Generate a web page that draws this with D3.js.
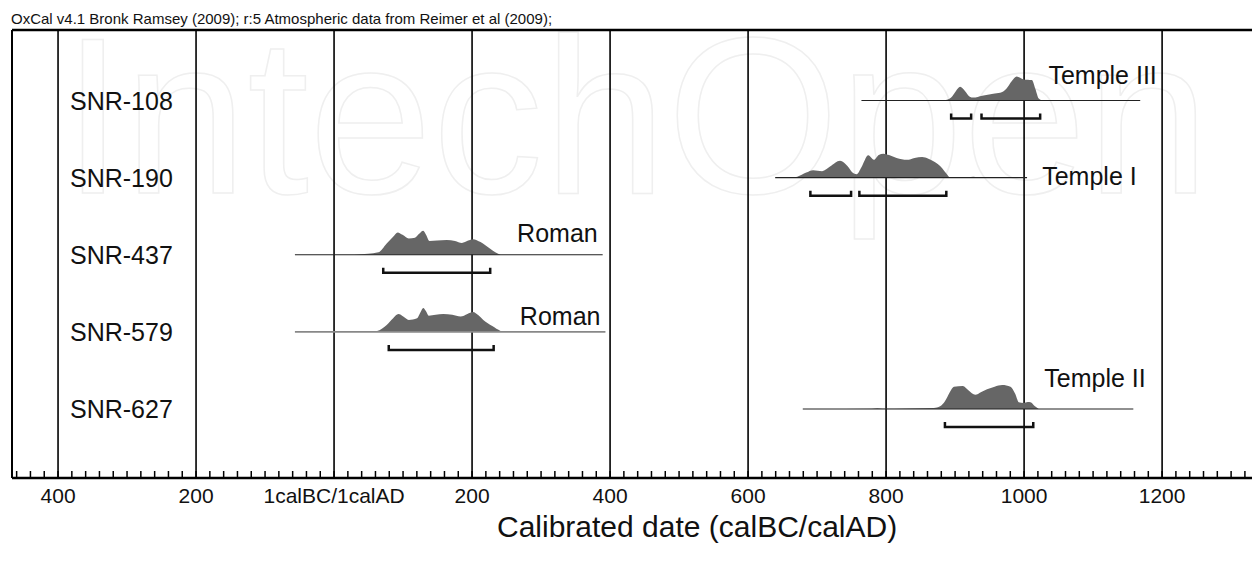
<!DOCTYPE html>
<html>
<head>
<meta charset="utf-8">
<script src="https://cdn.jsdelivr.net/npm/d3@7"></script>
<style>
  body { margin: 0; background: #fff; }
  svg { display: block; font-family: "Liberation Sans", Arial, sans-serif; }
</style>
</head>
<body>
<svg id="chart"></svg>
<script>
// samples, top to bottom
const samples = ["SNR-108", "SNR-190", "SNR-437", "SNR-579", "SNR-627"];
const periods = ["Temple III", "Temple I", "Roman", "Roman", "Temple II"];

// probability curves: [calendar year, relative probability]
const prob108 = [[885,0],[895,12],[902,40],[908,57],[915,40],[922,16],[927,12],[940,20],[956,28],[966,32],[975,49],[983,81],[990,100],[1000,88],[1012,85],[1017,49],[1022,8],[1027,0]];
const prob190 = [[665,0],[672,4],[685,21],[695,31],[708,27],[720,47],[734,70],[745,47],[752,21],[758,14],[765,43],[775,93],[783,74],[790,94],[797,100],[805,94],[816,82],[831,74],[842,82],[853,86],[862,79],[870,67],[882,39],[888,17],[894,0],[920,2],[927,4],[934,0]];
const prob437 = [[30,0],[50,4],[65,10],[77,47],[86,74],[93,93],[100,83],[109,68],[118,71],[124,87],[130,100],[134,83],[139,57],[150,59],[164,61],[176,57],[186,49],[195,59],[202,65],[213,53],[227,25],[235,9],[242,0]];
const prob579 = [[50,0],[63,4],[77,29],[86,56],[94,74],[101,64],[109,50],[121,57],[126,82],[130,100],[134,86],[138,67],[148,71],[159,74],[172,71],[184,64],[194,75],[202,83],[210,69],[217,50],[230,24],[242,4],[246,0]];
const prob627 = [[700,0],[780,1],[788,3],[796,1],[830,2],[870,4],[879,11],[886,32],[893,70],[899,93],[912,96],[920,78],[930,59],[938,70],[947,82],[958,93],[969,100],[981,93],[988,62],[993,28],[1000,25],[1006,29],[1010,28],[1016,12],[1022,0]];
const curves = [prob108, prob190, prob437, prob579, prob627];

// extent of the plotted range line for each sample
const spans = [[765,1169],[640,1005],[-56,390],[-56,394],[680,1159]];

// 95.4% ranges (brackets)
const ranges = [
  [[895,924],[939,1024]],
  [[691,750],[762,888]],
  [[72,227]],
  [[80,232]],
  [[886,1014]]
];

// period label anchor year and baseline offset from row
const labelYears = [1036, 1027, 266, 270, 1030];
const labelShift = [-17, 7, -13, -7, -22];

const majorTicks = [-400, -200, 0, 200, 400, 600, 800, 1000, 1200];
const tickLabels = ["400", "200", "1calBC/1calAD", "200", "400", "600", "800", "1000", "1200"];
const minorTicks = d3.range(-460, 1340, 20);

const width = 1252;
const height = 564;
const plotTop = 30;
const plotLeft = 12;
const axisY = 478;
const lineColors = ["#222", "#222", "#222", "#888", "#222"];

const svg = d3.select("#chart").attr("width", width).attr("height", height);

const x = d3.scaleLinear().domain([-466, 1331]).range([plotLeft, width]);
const row = d3.scalePoint().domain(samples).range([100.5, 409]);
const h = d3.scaleLinear().domain([0, 100]).range([0, 24]);

// watermark
svg.append("text")
  .attr("x", 62)
  .attr("y", 193)
  .attr("font-size", 222)
  .attr("font-family", "Liberation Sans, Arial, sans-serif")
  .attr("fill", "none")
  .attr("stroke", "#efefef")
  .attr("stroke-width", 1.5)
  .text("IntechOpen");

// header
svg.append("text")
  .attr("x", 11)
  .attr("y", 24)
  .attr("font-size", 15)
  .attr("fill", "#111")
  .text("OxCal v4.1 Bronk Ramsey (2009); r:5 Atmospheric data from Reimer et al (2009);");

// minor ticks
const minorAxis = d3.axisBottom(x).tickValues(minorTicks).tickSize(-7).tickFormat("");
svg.append("g")
  .attr("transform", `translate(0,${axisY})`)
  .call(minorAxis)
  .call(g => g.select(".domain").remove())
  .call(g => g.selectAll("line").attr("stroke", "#000").attr("stroke-width", 1.5));

// major ticks = grid lines
const majorAxis = d3.axisBottom(x)
  .tickValues(majorTicks)
  .tickSize(-(axisY - plotTop))
  .tickPadding(10)
  .tickFormat((d, i) => tickLabels[i]);
svg.append("g")
  .attr("transform", `translate(0,${axisY})`)
  .call(majorAxis)
  .call(g => g.select(".domain").remove())
  .call(g => g.selectAll("line").attr("stroke", "#000").attr("stroke-width", 1.6))
  .call(g => g.selectAll("text")
    .attr("font-size", 21)
    .attr("font-family", "Liberation Sans, Arial, sans-serif")
    .attr("fill", "#111"));

// frame
svg.append("line").attr("x1", plotLeft).attr("x2", width).attr("y1", plotTop).attr("y2", plotTop)
  .attr("stroke", "#000").attr("stroke-width", 2.5);
svg.append("line").attr("x1", plotLeft).attr("x2", plotLeft).attr("y1", plotTop).attr("y2", axisY)
  .attr("stroke", "#000").attr("stroke-width", 2);
svg.append("line").attr("x1", plotLeft).attr("x2", width).attr("y1", axisY).attr("y2", axisY)
  .attr("stroke", "#000").attr("stroke-width", 2.5);

// distributions
const area = d3.area()
  .x(d => x(d[0]))
  .y0(0)
  .y1(d => -h(d[1]))
  .curve(d3.curveMonotoneX);

samples.forEach((s, i) => {
  const g = svg.append("g").attr("transform", `translate(0,${row(s)})`);

  g.append("path")
    .datum(curves[i])
    .attr("d", area)
    .attr("fill", "#666");

  g.append("line")
    .attr("x1", x(spans[i][0]))
    .attr("x2", x(spans[i][1]))
    .attr("stroke", lineColors[i])
    .attr("stroke-width", i === 3 ? 1.6 : 1.2);

  g.selectAll(".range")
    .data(ranges[i])
    .enter()
    .append("path")
    .attr("class", "range")
    .attr("d", r => `M${x(r[0])},13 V18 H${x(r[1])} V13`)
    .attr("fill", "none")
    .attr("stroke", "#111")
    .attr("stroke-width", 2.5);

  g.append("text")
    .attr("x", 70)
    .attr("y", 9)
    .attr("font-size", 25)
    .attr("fill", "#111")
    .text(s);

  g.append("text")
    .attr("x", x(labelYears[i]))
    .attr("y", labelShift[i])
    .attr("font-size", 25)
    .attr("fill", "#111")
    .text(periods[i]);
});

// axis title
svg.append("text")
  .attr("x", 497)
  .attr("y", 537)
  .attr("font-size", 30)
  .attr("fill", "#111")
  .text("Calibrated date (calBC/calAD)");
</script>
</body>
</html>
